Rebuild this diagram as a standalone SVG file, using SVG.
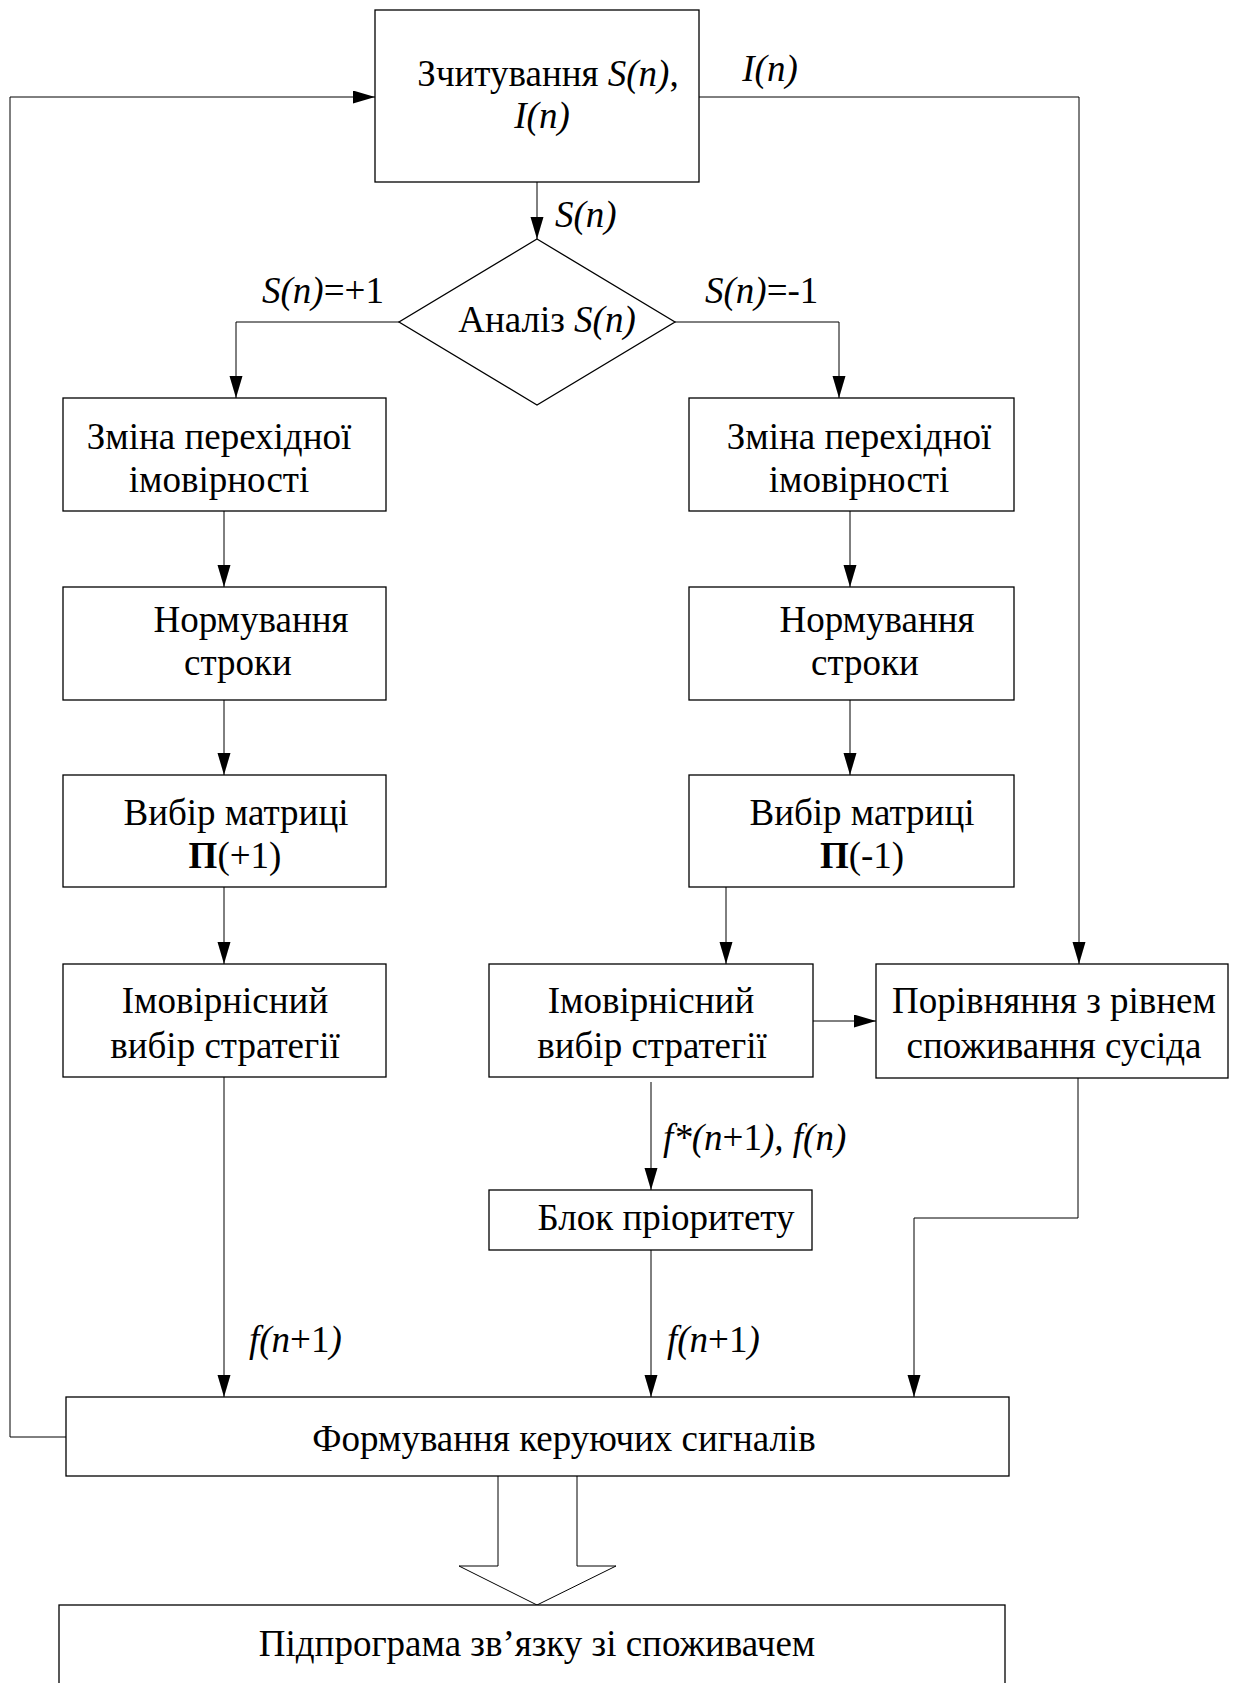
<svg xmlns="http://www.w3.org/2000/svg" width="1234" height="1683" viewBox="0 0 1234 1683">
<defs>
<marker id="ah" markerUnits="userSpaceOnUse" markerWidth="22" markerHeight="14" refX="22" refY="6.5" orient="auto">
<path d="M0,0 L22,6.5 L0,13 z" fill="#000"/>
</marker>
<style>
.box{fill:#fff;stroke:#000;stroke-width:1.3}
.ln{fill:none;stroke:#000;stroke-width:1}
.t{font-family:"Liberation Serif","Times New Roman",serif;font-size:37px;fill:#000}
.m{text-anchor:middle}
.i{font-style:italic}
.b{font-weight:bold}
</style>
</defs>
<rect width="1234" height="1683" fill="#fff"/>

<g id="connectors">
<polyline class="ln" points="66,1437 10,1437 10,97 375,97" marker-end="url(#ah)"/>
<polyline class="ln" points="699,97 1079,97 1079,964" marker-end="url(#ah)"/>
<line class="ln" x1="537" y1="182" x2="537" y2="239" marker-end="url(#ah)"/>
<polyline class="ln" points="399,322 236,322 236,398" marker-end="url(#ah)"/>
<polyline class="ln" points="675,322 839,322 839,398" marker-end="url(#ah)"/>
<line class="ln" x1="224" y1="511" x2="224" y2="587" marker-end="url(#ah)"/>
<line class="ln" x1="224" y1="700" x2="224" y2="775" marker-end="url(#ah)"/>
<line class="ln" x1="224" y1="887" x2="224" y2="964" marker-end="url(#ah)"/>
<line class="ln" x1="224" y1="1077" x2="224" y2="1397" marker-end="url(#ah)"/>
<line class="ln" x1="850" y1="511" x2="850" y2="587" marker-end="url(#ah)"/>
<line class="ln" x1="850" y1="700" x2="850" y2="775" marker-end="url(#ah)"/>
<line class="ln" x1="726" y1="887" x2="726" y2="964" marker-end="url(#ah)"/>
<line class="ln" x1="813" y1="1021" x2="876" y2="1021" marker-end="url(#ah)"/>
<line class="ln" x1="651" y1="1082" x2="651" y2="1190" marker-end="url(#ah)"/>
<line class="ln" x1="651" y1="1250" x2="651" y2="1397" marker-end="url(#ah)"/>
<polyline class="ln" points="1078,1078 1078,1218 914,1218 914,1397" marker-end="url(#ah)"/>
<path d="M498,1476 V1566 H459 L537,1605 L616,1566 H577 V1476" fill="#fff" stroke="#000" stroke-width="1"/>
<text class="t i" x="770" y="81" text-anchor="middle">I(n)</text>
<text class="t i" x="555" y="227">S(n)</text>
<text class="t" x="262" y="303"><tspan class="i">S(n)</tspan>=+1</text>
<text class="t" x="705" y="303"><tspan class="i">S(n)</tspan>=-1</text>
<text class="t" x="663" y="1150"><tspan class="i">f*(n</tspan>+1<tspan class="i">), f(n)</tspan></text>
<text class="t" x="249" y="1352"><tspan class="i">f(n</tspan>+1<tspan class="i">)</tspan></text>
<text class="t" x="667" y="1352"><tspan class="i">f(n</tspan>+1<tspan class="i">)</tspan></text>
</g>

<g id="node-read">
<rect class="box" x="375" y="10" width="324" height="172"/>
<text class="t m" x="548" y="86">Зчитування <tspan class="i">S(n)</tspan>,</text>
<text class="t m i" x="542" y="128">I(n)</text>
</g>

<g id="node-analysis">
<polygon class="box" points="537,239 675,322 537,405 399,322"/>
<text class="t m" x="547" y="332">Аналіз <tspan class="i">S(n)</tspan></text>
</g>

<g id="node-change-left">
<rect class="box" x="63" y="398" width="323" height="113"/>
<text class="t m" x="219" y="449">Зміна перехідної</text>
<text class="t m" x="219" y="492">імовірності</text>
</g>
<g id="node-change-right">
<rect class="box" x="689" y="398" width="325" height="113"/>
<text class="t m" x="859" y="449">Зміна перехідної</text>
<text class="t m" x="859" y="492">імовірності</text>
</g>

<g id="node-norm-left">
<rect class="box" x="63" y="587" width="323" height="113"/>
<text class="t m" x="251" y="632">Нормування</text>
<text class="t m" x="238" y="675">строки</text>
</g>
<g id="node-norm-right">
<rect class="box" x="689" y="587" width="325" height="113"/>
<text class="t m" x="877" y="632">Нормування</text>
<text class="t m" x="865" y="675">строки</text>
</g>

<g id="node-matrix-left">
<rect class="box" x="63" y="775" width="323" height="112"/>
<text class="t m" x="236" y="825">Вибір матриці</text>
<text class="t m" x="235" y="868"><tspan class="b">П</tspan>(+1)</text>
</g>
<g id="node-matrix-right">
<rect class="box" x="689" y="775" width="325" height="112"/>
<text class="t m" x="862" y="825">Вибір матриці</text>
<text class="t m" x="862" y="868"><tspan class="b">П</tspan>(-1)</text>
</g>

<g id="node-choice-left">
<rect class="box" x="63" y="964" width="323" height="113"/>
<text class="t m" x="225" y="1013">Імовірнісний</text>
<text class="t m" x="225" y="1058">вибір стратегії</text>
</g>
<g id="node-choice-mid">
<rect class="box" x="489" y="964" width="324" height="113"/>
<text class="t m" x="651" y="1013">Імовірнісний</text>
<text class="t m" x="652" y="1058">вибір стратегії</text>
</g>
<g id="node-compare">
<rect class="box" x="876" y="964" width="352" height="114"/>
<text class="t m" x="1054" y="1013">Порівняння з рівнем</text>
<text class="t m" x="1054" y="1058">споживання сусіда</text>
</g>

<g id="node-priority">
<rect class="box" x="489" y="1190" width="323" height="60"/>
<text class="t m" x="666" y="1230">Блок пріоритету</text>
</g>

<g id="node-signals">
<rect class="box" x="66" y="1397" width="943" height="79"/>
<text class="t m" x="564" y="1451">Формування керуючих сигналів</text>
</g>

<g id="node-sub">
<rect class="box" x="59" y="1605" width="946" height="110"/>
<text class="t m" x="537" y="1656">Підпрограма зв’язку зі споживачем</text>
</g>
</svg>
